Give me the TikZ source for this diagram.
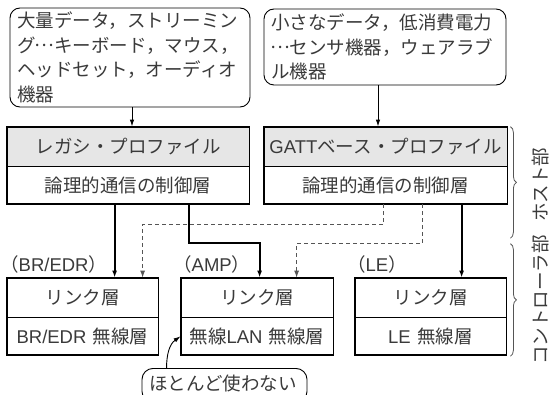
\documentclass[tikz,border=0pt]{standalone}
\usepackage{fontspec}
\setmainfont{Noto Sans CJK JP}
\newfontfamily\lat{Liberation Sans}
\usetikzlibrary{arrows.meta,decorations.pathreplacing,calc}
\definecolor{txt}{HTML}{3A3A3A}
\definecolor{hdr}{HTML}{E6E6E6}
\definecolor{dsh}{HTML}{555555}
\definecolor{brc}{HTML}{555555}
\newcommand{\jfont}{\fontsize{18.5}{24.5}\selectfont}
\newcommand{\jell}{\makebox[1em][c]{\raisebox{0.3em}{…}}}
\newcommand{\jsp}{\hspace{0.35em}}
\begin{document}
\begin{tikzpicture}[x=1pt,y=-1pt,
  every node/.style={text=txt,font=\jfont},
  note/.style={draw=black,line width=0.9pt,rounded corners=10pt,align=left,inner xsep=7pt},
  hcell/.style={draw=black,line width=0.8pt,fill=hdr,minimum height=39pt,inner sep=0pt},
  bcell/.style={draw=black,line width=0.8pt,minimum height=37pt,inner sep=0pt},
  frame/.style={draw=black,line width=1.8pt},
  solidc/.style={draw=black,line width=1.8pt,-{Latex[length=7pt,width=5pt]}},
  dashc/.style={draw=dsh,line width=0.9pt,dash pattern=on 4pt off 3pt,-{Latex[length=7pt,width=5pt]}},
  thinc/.style={draw=black,line width=0.9pt,-{Latex[length=7pt,width=4.5pt]}},
  bracestyle/.style={draw=brc,line width=0.8pt,decorate,decoration={brace,amplitude=6pt,aspect=0.5}},
  lbl/.style={anchor=west,inner sep=0pt},
  side/.style={rotate=90,inner sep=0pt}
]
\useasboundingbox (0,0) rectangle (551,395);
\clip (0,0) rectangle (551,395);

% top notes
\node[note,text width=226pt,minimum height=99pt] (n1) at (130,57.5)
  {大量データ，ストリーミン\\グ\jell キーボード，マウス，\\ヘッドセット，オーディオ\\機器};
\node[note,text width=228pt,minimum height=76pt] (n2) at (385,47)
  {小さなデータ，低消費電力\\\jell センサ機器，ウェアラブ\\ル機器};

% host stacks
\node[hcell,minimum width=242pt] (lh) at (128,146.5) {レガシ・プロファイル};
\node[bcell,minimum width=242pt,anchor=north] (lb) at (lh.south) {論理的通信の制御層};
\draw[frame] (lh.north west) rectangle (lb.south east);

\node[hcell,minimum width=243pt] (gh) at (385.5,146.5) {{\lat GATT}ベース・プロファイル};
\node[bcell,minimum width=243pt,anchor=north] (gb) at (gh.south) {論理的通信の制御層};
\draw[frame] (gh.north west) rectangle (gb.south east);

% controller stacks
\node[hcell,fill=none,minimum width=151pt] (bu) at (82.5,297.5) {リンク層};
\node[bcell,minimum width=151pt,anchor=north] (bl) at (bu.south) {{\lat BR/EDR}\jsp 無線層};
\draw[frame] (bu.north west) rectangle (bl.south east);

\node[hcell,fill=none,minimum width=152pt] (au) at (257,297.5) {リンク層};
\node[bcell,minimum width=152pt,anchor=north] (al) at (au.south) {無線{\lat LAN}\jsp 無線層};
\draw[frame] (au.north west) rectangle (al.south east);

\node[hcell,fill=none,minimum width=151pt] (eu) at (430.5,297.5) {リンク層};
\node[bcell,minimum width=151pt,anchor=north] (el) at (eu.south) {{\lat LE}\jsp 無線層};
\draw[frame] (eu.north west) rectangle (el.south east);

% labels
\node[lbl] (l1) at (0,264) {（{\lat BR/EDR}）};
\node[lbl] (l2) at (173,264) {（{\lat AMP}）};
\node[lbl] (l3) at (347,264) {（{\lat LE}）};

% arrows from notes
\draw[thinc] (n1.south) ++(2,0) coordinate (t1) -- (t1 |- lh.north);
\draw[thinc] (n2.south) ++(-7,0) coordinate (t2) -- (t2 |- gh.north);

% solid connectors
\draw[solidc] (lb.south west) ++(108,0) coordinate (s1) -- (s1 |- bu.north);
\draw[solidc] (lb.south west) ++(182,0) coordinate (s2) -- ++(0,39) -| ($(au.north west)+(79,0)$);
\draw[solidc] (gb.south west) ++(198,0) coordinate (s3) -- (s3 |- eu.north);

% dashed connectors
\draw[dashc] (gb.south west) ++(120,0) coordinate (d1) -- ++(0,20) -| ($(bu.north west)+(136,0)$);
\draw[dashc] (gb.south west) ++(159,0) coordinate (d2) -- ++(0,39) -| ($(au.north west)+(116,0)$);

% braces
\draw[bracestyle] ($(gh.north east)+(3,0)$) -- ($(gb.south east)+(3,34)$) coordinate (hb);
\draw[bracestyle] ($(eu.north east)+(4,-34)$) -- ($(el.south east)+(4,1)$);
\node[side] (hs) at (541,185) {ホスト部};
\node[side] (cs) at (541,300) {コントローラ部};

% annotation
\node[draw=black,line width=0.9pt,rounded corners=11pt,minimum width=165pt,minimum height=34pt,inner sep=0pt,anchor=north] (an) at (224.5,368) {};
\node (at) at (223,383.5) {ほとんど使わない};
\draw[thinc] (an.north west) ++(25,0) coordinate (c0) to[out=90,in=215] (al.west);
\end{tikzpicture}
\end{document}
